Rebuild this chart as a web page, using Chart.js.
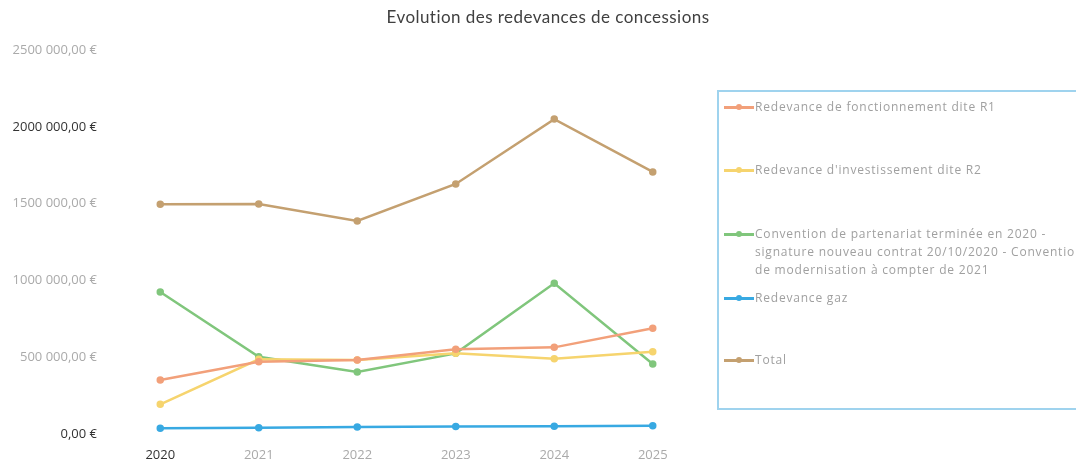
<!DOCTYPE html>
<html lang="fr">
<head>
<meta charset="utf-8">
<title>Evolution des redevances de concessions</title>
<script src="https://cdn.jsdelivr.net/npm/chart.js"></script>
<style>
  body { margin: 0; background: #fff; overflow: hidden; }
  #wrap { position: relative; width: 1076px; height: 461px; overflow: hidden; }
  #wrap canvas { display: block; }
  #title {
    position: absolute; left: 0; width: 1096px; top: 6px; text-align: center;
    font-family: Lato, sans-serif; font-size: 17px; letter-spacing: 0.45px; color: #404040;
  }
  #legendBox {
    position: absolute; left: 717px; top: 90px; width: 400px; height: 320px;
    border: 2px solid #9fd3ee; box-sizing: border-box;
  }
  .item {
    position: absolute; left: 5px; font-family: "Open Sans", sans-serif; font-size: 12px;
    letter-spacing: 0.8px; color: #a0a0a0; line-height: 18px; white-space: nowrap;
  }
  .item .mark { position: absolute; left: 0; top: 8px; width: 30px; height: 3px; }
  .item .dot { position: absolute; left: 12px; top: -2px; width: 6px; height: 6px; border-radius: 50%; }
  .item .txt { margin-left: 31px; }
</style>
</head>
<body>
<div id="wrap">
  <canvas id="chart" width="1076" height="461"></canvas>
  <div id="title">Evolution des redevances de concessions</div>
  <div id="legendBox"></div>
</div>
<script>
// Years on the x axis
const years = ["2020", "2021", "2022", "2023", "2024", "2025"];

// Values (euros)
const r1 = [352000, 471000, 482000, 551000, 564000, 688000];
const r2 = [193000, 486000, 482000, 525000, 490000, 536000];
const convention = [924000, 503000, 404000, 525000, 981000, 456000];
const gaz = [38000, 40000, 46000, 49000, 51000, 54000];
const total = [1495000, 1497000, 1387000, 1628000, 2050000, 1706000];

// Legend labels (one entry per line)
const seriesLabels = [
    ["Redevance de fonctionnement dite R1"],
    ["Redevance d'investissement dite R2"],
    ["Convention de partenariat terminée en 2020 -",
     "signature nouveau contrat 20/10/2020 - Convention",
     "de modernisation à compter de 2021"],
    ["Redevance gaz"],
    ["Total"],
];
const seriesColors = ["#f2a07a", "#f6d46e", "#80c67c", "#38a9e2", "#c4a070"];
const seriesData = [r1, r2, convention, gaz, total];
// vertical position of each legend entry inside the box
const legendTops = [6, 69, 133, 197, 259];

// "2500 000,00 €" style
function euro(v) {
    const s = v.toFixed(2).split(".");
    let intPart = s[0];
    if (intPart.length > 3) {
        intPart = intPart.slice(0, -3) + " " + intPart.slice(-3);
    }
    return intPart + "," + s[1] + " €";
}

const ctx = document.getElementById("chart").getContext("2d");
const chart = new Chart(ctx, {
    type: "line",
    data: {
        labels: years,
        datasets: seriesData.map((d, i) => ({
            label: seriesLabels[i].join(" "),
            data: d,
            borderColor: seriesColors[i],
            backgroundColor: seriesColors[i],
            borderWidth: 2.5,
            pointRadius: 2.5,
            tension: 0,
        })),
    },
    options: {
        responsive: false,
        animation: false,
        layout: { padding: { top: 50, right: 374, bottom: 0, left: 0 } },
        plugins: {
            legend: { display: false },
            tooltip: { enabled: false },
        },
        scales: {
            x: {
                offset: true,
                grid: { display: false, drawTicks: false },
                border: { display: false },
                afterFit: (scale) => { scale.height = 27; },
                ticks: {
                    padding: 13,
                    font: { family: "Open Sans", size: 13 },
                    color: (c) => (c.index === 0 ? "#333" : "#aaa"),
                },
            },
            y: {
                min: 0,
                max: 2500000,
                grid: { display: false, drawTicks: false },
                border: { display: false },
                afterFit: (scale) => { scale.width = 111; },
                ticks: {
                    stepSize: 500000,
                    padding: 14,
                    font: { family: "Open Sans", size: 13 },
                    color: (c) => (c.tick.value === 2000000 || c.tick.value === 0 ? "#333" : "#aaa"),
                    callback: (v) => euro(v),
                },
            },
        },
    },
});

// HTML legend built from the chart's datasets
const box = document.getElementById("legendBox");
chart.data.datasets.forEach((ds, i) => {
    const item = document.createElement("div");
    item.className = "item";
    item.style.top = legendTops[i] + "px";
    item.innerHTML =
        `<span class="mark" style="background:${ds.borderColor}">` +
        `<span class="dot" style="background:${ds.borderColor}"></span></span>` +
        `<div class="txt">${seriesLabels[i].join("<br>")}</div>`;
    box.appendChild(item);
});
</script>
</body>
</html>
